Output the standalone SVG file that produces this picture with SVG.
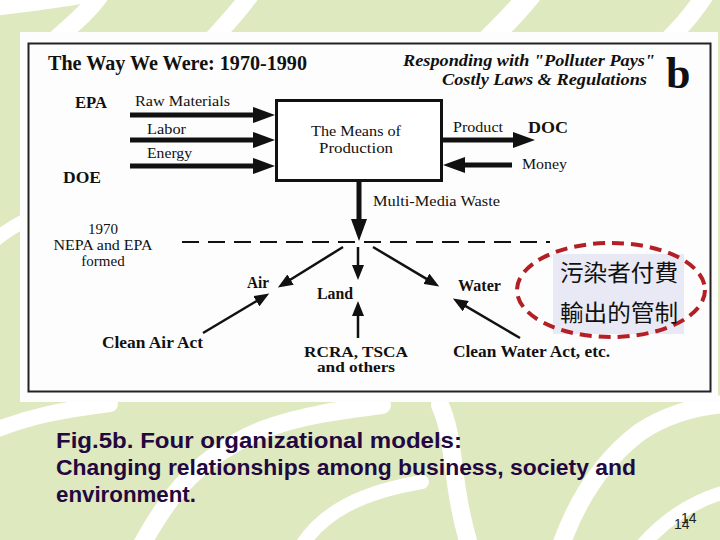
<svg xmlns="http://www.w3.org/2000/svg" width="720" height="540" viewBox="0 0 720 540">
<style>
.bgs{fill:none;stroke:#ffffff;stroke-linecap:round}
.s{font-family:"Liberation Serif","Times New Roman",serif;font-size:15px;fill:#111}
.b{font-weight:bold;font-size:16px}
.bi{font-weight:bold;font-style:italic;font-size:16px}
.m{text-anchor:middle}
.thick{stroke:#111;stroke-width:5;fill:none}
.thin{stroke:#111;stroke-width:2.5;fill:none}
.cap{font-family:"Liberation Sans",Arial,sans-serif;font-weight:bold;font-size:22px;fill:#23083f}
.cjk{font-family:"Noto Sans CJK TC","Noto Sans CJK SC",sans-serif;font-size:23px;fill:#111}
</style>
<defs>
<marker id="big" markerUnits="userSpaceOnUse" markerWidth="24" markerHeight="16" refX="12" refY="8" orient="auto"><path d="M0,0 L22,8 L0,16 Z" fill="#111"/></marker>
<marker id="small" markerUnits="userSpaceOnUse" markerWidth="16" markerHeight="12" refX="8" refY="6" orient="auto"><path d="M0,0 L15,6 L0,12 Z" fill="#111"/></marker>
</defs>
<g id="background">
<rect x="0" y="0" width="720" height="540" fill="#dee9c0"/>
<path class="bgs" stroke-width="18" d="M100,-5 C90,10 72,25 55,40"/>
<path class="bgs" stroke-width="16" d="M-5,8 C20,4 50,2 80,-4"/>
<path class="bgs" stroke-width="18" d="M250,-5 C238,12 226,24 212,40"/>
<path class="bgs" stroke-width="22" d="M530,-5 C515,14 502,26 488,40"/>
<path class="bgs" stroke-width="18" d="M705,-5 C693,14 682,26 668,40"/>
<path class="bgs" stroke-width="14" d="M-5,240 C5,232 14,226 26,220"/>
<path class="bgs" stroke-width="16" d="M-10,432 C30,416 62,410 110,404"/>
<path class="bgs" stroke-width="18" d="M140,548 C170,492 200,456 262,430 C302,415 342,410 382,405"/>
<path class="bgs" stroke-width="14" d="M300,548 C322,512 362,492 422,482"/>
<path class="bgs" stroke-width="18" d="M440,405 C456,440 450,482 470,548"/>
<path class="bgs" stroke-width="18" d="M560,548 C576,502 600,462 640,432 C670,412 700,406 725,404"/>
<path class="bgs" stroke-width="14" d="M640,548 C662,522 690,502 725,492"/>
</g>
<g id="panel">
<rect x="20" y="32" width="698" height="370" fill="#fdfdfd"/>
<rect x="28.5" y="43.5" width="682" height="348" fill="none" stroke="#222" stroke-width="2"/>
</g>
<g id="headings">
<text class="s b" x="48" y="70" style="font-size:20px" textLength="259" lengthAdjust="spacingAndGlyphs">The Way We Were: 1970-1990</text>
<text class="s bi" x="403" y="66" textLength="252" lengthAdjust="spacingAndGlyphs">Responding with "Polluter Pays"</text>
<text class="s bi" x="442" y="85" textLength="205" lengthAdjust="spacingAndGlyphs">Costly Laws &amp; Regulations</text>
<text class="s b" x="666" y="88" style="font-size:44px">b</text>
</g>
<g id="node-epa"><text class="s b" x="75" y="108" textLength="32" lengthAdjust="spacingAndGlyphs">EPA</text></g>
<g id="node-doe"><text class="s b" x="63" y="183" textLength="38" lengthAdjust="spacingAndGlyphs">DOE</text></g>
<g id="node-production">
<rect x="276.5" y="100.5" width="165" height="80" fill="#fff" stroke="#111" stroke-width="3"/>
<text class="s m" x="356" y="136" textLength="90" lengthAdjust="spacingAndGlyphs">The Means of</text>
<text class="s m" x="356" y="153" textLength="74" lengthAdjust="spacingAndGlyphs">Production</text>
</g>
<g id="node-doc"><text class="s b" x="528" y="133" textLength="40" lengthAdjust="spacingAndGlyphs">DOC</text></g>
<g id="node-1970">
<text class="s m" x="103" y="234">1970</text>
<text class="s m" x="103" y="250" textLength="99" lengthAdjust="spacingAndGlyphs">NEPA and EPA</text>
<text class="s m" x="103" y="266">formed</text>
</g>
<g id="node-air"><text class="s b" x="247" y="288" textLength="22" lengthAdjust="spacingAndGlyphs">Air</text></g>
<g id="node-land"><text class="s b" x="317" y="299" textLength="36" lengthAdjust="spacingAndGlyphs">Land</text></g>
<g id="node-water"><text class="s b" x="458" y="291" textLength="43" lengthAdjust="spacingAndGlyphs">Water</text></g>
<g id="node-cleanair"><text class="s b" x="102" y="348" textLength="101" lengthAdjust="spacingAndGlyphs">Clean Air Act</text></g>
<g id="node-rcra">
<text class="s b m" x="356" y="357" style="font-size:15px" textLength="104" lengthAdjust="spacingAndGlyphs">RCRA, TSCA</text>
<text class="s b m" x="356" y="372" style="font-size:15px" textLength="78" lengthAdjust="spacingAndGlyphs">and others</text>
</g>
<g id="node-cleanwater"><text class="s b" x="453" y="357" textLength="157" lengthAdjust="spacingAndGlyphs">Clean Water Act, etc.</text></g>
<g id="node-note">
<rect x="553" y="254" width="131" height="80" fill="#e8e9f4"/>
<ellipse cx="611" cy="290" rx="94" ry="47" fill="none" stroke="#b41f25" stroke-width="4" stroke-dasharray="12 7"/>
<text class="cjk" x="560" y="281" textLength="118" lengthAdjust="spacingAndGlyphs">污染者付費</text>
<text class="cjk" x="560" y="321" textLength="118" lengthAdjust="spacingAndGlyphs">輸出的管制</text>
</g>
<g id="connectors">
<line class="thick" x1="130" y1="115" x2="265" y2="115" marker-end="url(#big)"/>
<line class="thick" x1="130" y1="140" x2="265" y2="140" marker-end="url(#big)"/>
<line class="thick" x1="130" y1="166" x2="265" y2="166" marker-end="url(#big)"/>
<line class="thick" x1="442" y1="140" x2="525" y2="140" marker-end="url(#big)"/>
<line class="thick" x1="512" y1="165" x2="453" y2="165" marker-end="url(#big)"/>
<line class="thick" x1="359" y1="181" x2="359" y2="231" marker-end="url(#big)"/>
<line x1="182" y1="242" x2="550" y2="242" stroke="#111" stroke-width="2" stroke-dasharray="17 9"/>
<line class="thin" x1="343" y1="247" x2="283.8" y2="283.8" marker-end="url(#small)"/>
<line class="thin" x1="203" y1="333" x2="263.2" y2="297.1" marker-end="url(#small)"/>
<line class="thin" x1="358" y1="247" x2="358" y2="273" marker-end="url(#small)"/>
<line class="thin" x1="358" y1="338" x2="358" y2="308" marker-end="url(#small)"/>
<line class="thin" x1="373" y1="247" x2="433.2" y2="282.9" marker-end="url(#small)"/>
<line class="thin" x1="520" y1="338" x2="458.9" y2="302.1" marker-end="url(#small)"/>
</g>
<g id="labels">
<text class="s" x="135" y="106" textLength="95" lengthAdjust="spacingAndGlyphs">Raw Materials</text>
<text class="s" x="147" y="134" textLength="39" lengthAdjust="spacingAndGlyphs">Labor</text>
<text class="s" x="147" y="158" textLength="45" lengthAdjust="spacingAndGlyphs">Energy</text>
<text class="s" x="453" y="132" textLength="50" lengthAdjust="spacingAndGlyphs">Product</text>
<text class="s" x="522" y="169" textLength="45" lengthAdjust="spacingAndGlyphs">Money</text>
<text class="s" x="373" y="206" textLength="127" lengthAdjust="spacingAndGlyphs">Multi-Media Waste</text>
</g>
<g id="caption">
<text class="cap" x="56" y="448" textLength="406" lengthAdjust="spacingAndGlyphs">Fig.5b.  Four organizational models:</text>
<text class="cap" x="56" y="475" textLength="580" lengthAdjust="spacingAndGlyphs">Changing relationships among business, society and</text>
<text class="cap" x="56" y="502" textLength="140" lengthAdjust="spacingAndGlyphs">environment.</text>
<text x="674" y="529" font-family="Liberation Sans, Arial, sans-serif" font-size="14" fill="#222">14</text>
<text x="681" y="523" font-family="Liberation Sans, Arial, sans-serif" font-size="14" fill="#222">14</text>
</g>
</svg>
